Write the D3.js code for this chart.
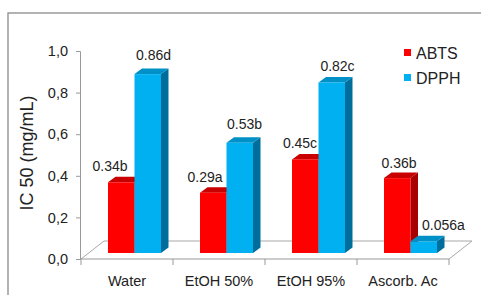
<!DOCTYPE html>
<html>
<head>
<meta charset="utf-8">
<script src="https://cdn.jsdelivr.net/npm/d3@7"></script>
<style>
  body { margin: 0; background: #fff; }
  text { font-family: Arial, "Liberation Sans", sans-serif; fill: #222; }
</style>
</head>
<body>
<div id="chart"></div>
<script>
// data
var categories = ["Water", "EtOH 50%", "EtOH 95%", "Ascorb. Ac"];
var series = ["ABTS", "DPPH"];
var abts = [0.34, 0.29, 0.45, 0.36];
var dpph = [0.86, 0.53, 0.82, 0.056];
var abtsLabels = ["0.34b", "0.29a", "0.45c", "0.36b"];
var dpphLabels = ["0.86d", "0.53b", "0.82c", "0.056a"];
var yTicks = [0, 0.2, 0.4, 0.6, 0.8, 1.0];

var svgWidth = 481, svgHeight = 295;

var colors = {
  ABTS: { front: "#ff0000", top: "#c80000", side: "#a80000" },
  DPPH: { front: "#00b0f0", top: "#0090c8", side: "#006e9c" }
};

// 3d offsets
var floorDx = 23, floorDy = -18;   // depth of the floor
var barPx = 7.5, barPy = -6;       // where the bars' front face sits
var barDx = 7.5, barDy = -5.5;     // depth of each bar

var svg = d3.select("#chart").append("svg")
  .attr("width", svgWidth)
  .attr("height", svgHeight);

// outer frame
svg.append("rect")
  .attr("x", 8).attr("y", 13)
  .attr("width", 600).attr("height", 400)
  .attr("fill", "none")
  .attr("stroke", "#8a8a8a")
  .attr("stroke-width", 1.3);

// scales
var y = d3.scaleLinear().domain([0, 1]).range([259, 51]);
var x0 = d3.scaleBand().domain(categories).range([81, 449]);
var groupWidth = 53;
var x1 = d3.scaleBand().domain(series).range([0, groupWidth]);

// floor
var fl = 81, fr = 449, fy = y(0);
var floorPts = [[fl, fy], [fl + floorDx, fy + floorDy], [fr + floorDx, fy + floorDy], [fr, fy]];
svg.append("path")
  .attr("d", d3.line()(floorPts))
  .attr("fill", "none")
  .attr("stroke", "#a8a8a8")
  .attr("stroke-width", 1);

// y axis
var yAxis = svg.append("g")
  .attr("transform", "translate(80,0)")
  .call(d3.axisLeft(y)
    .tickValues(yTicks)
    .tickSize(4)
    .tickPadding(8)
    .tickFormat(function (d) { return d3.format(".1f")(d).replace(".", ","); }));
yAxis.select(".domain").attr("stroke", "#999");
yAxis.selectAll(".tick line").attr("stroke", "#999");
yAxis.selectAll("text")
  .attr("font-size", "14.5px")
  .attr("fill", "#222")
  .attr("font-family", "Arial, 'Liberation Sans', sans-serif");

// x axis line + boundary ticks
svg.append("line")
  .attr("x1", 80).attr("x2", fr)
  .attr("y1", fy).attr("y2", fy)
  .attr("stroke", "#999");
var bounds = categories.map(function (c) { return x0(c); }).concat([x0.range()[1]]);
svg.selectAll(".xtick")
  .data(bounds)
  .enter()
  .append("line")
  .attr("class", "xtick")
  .attr("x1", function (d) { return d; })
  .attr("x2", function (d) { return d; })
  .attr("y1", fy).attr("y2", fy + 6)
  .attr("stroke", "#999");

svg.selectAll(".xlabel")
  .data(categories)
  .enter()
  .append("text")
  .attr("class", "xlabel")
  .attr("x", function (d) { return x0(d) + x0.bandwidth() / 2; })
  .attr("y", 286)
  .attr("text-anchor", "middle")
  .attr("font-size", "14.5px")
  .text(function (d) { return d; });

// bars
var rows = [];
categories.forEach(function (c, i) {
  rows.push({ cat: c, key: "ABTS", value: abts[i], label: abtsLabels[i], i: i });
  rows.push({ cat: c, key: "DPPH", value: dpph[i], label: dpphLabels[i], i: i });
});

function barLeft(d) {
  return x0(d.cat) + (x0.bandwidth() - groupWidth) / 2 + barPx + x1(d.key);
}

var bars = svg.selectAll(".bar")
  .data(rows)
  .enter()
  .append("g")
  .attr("class", "bar");

bars.each(function (d) {
  var g = d3.select(this);
  var xl = barLeft(d), xr = xl + x1.bandwidth();
  var yb = y(0) + barPy, yt = y(d.value) + barPy;
  var c = colors[d.key];
  // side
  g.append("path")
    .attr("d", d3.line()([[xr, yb], [xr + barDx, yb + barDy], [xr + barDx, yt + barDy], [xr, yt]]) + "Z")
    .attr("fill", c.side);
  // top
  g.append("path")
    .attr("d", d3.line()([[xl, yt], [xl + barDx, yt + barDy], [xr + barDx, yt + barDy], [xr, yt]]) + "Z")
    .attr("fill", c.top);
  // front
  g.append("rect")
    .attr("x", xl).attr("y", yt)
    .attr("width", xr - xl).attr("height", yb - yt)
    .attr("fill", c.front);
});

// value labels (small nudges so they sit where the original puts them)
var nudgeAbts = [[-15, 0], [-12, 0], [-9, 0], [-2, 1]];
var nudgeDpph = [[2, -3], [1, -3], [2, 0], [16, 0]];

svg.selectAll(".vlabel")
  .data(rows)
  .enter()
  .append("text")
  .attr("class", "vlabel")
  .attr("x", function (d) {
    var n = d.key === "ABTS" ? nudgeAbts[d.i] : nudgeDpph[d.i];
    return barLeft(d) + x1.bandwidth() / 2 + barDx / 2 + n[0];
  })
  .attr("y", function (d) {
    var n = d.key === "ABTS" ? nudgeAbts[d.i] : nudgeDpph[d.i];
    return y(d.value) + barPy + barDy - 5.5 + n[1];
  })
  .attr("text-anchor", "middle")
  .attr("font-size", "14px")
  .attr("fill", "#333")
  .text(function (d) { return d.label; });

// y title
svg.append("text")
  .attr("transform", "translate(33,153) rotate(-90)")
  .attr("text-anchor", "middle")
  .attr("font-size", "18px")
  .text("IC 50 (mg/mL)");

// legend
var legend = svg.selectAll(".legend")
  .data(series)
  .enter()
  .append("g")
  .attr("class", "legend")
  .attr("transform", function (d, i) { return "translate(404," + (49 + i * 25) + ")"; });
legend.append("rect")
  .attr("width", 7).attr("height", 7)
  .attr("fill", function (d) { return colors[d].front; });
legend.append("text")
  .attr("x", 12).attr("y", 10)
  .attr("font-size", "16px")
  .text(function (d) { return d; });
</script>
</body>
</html>
